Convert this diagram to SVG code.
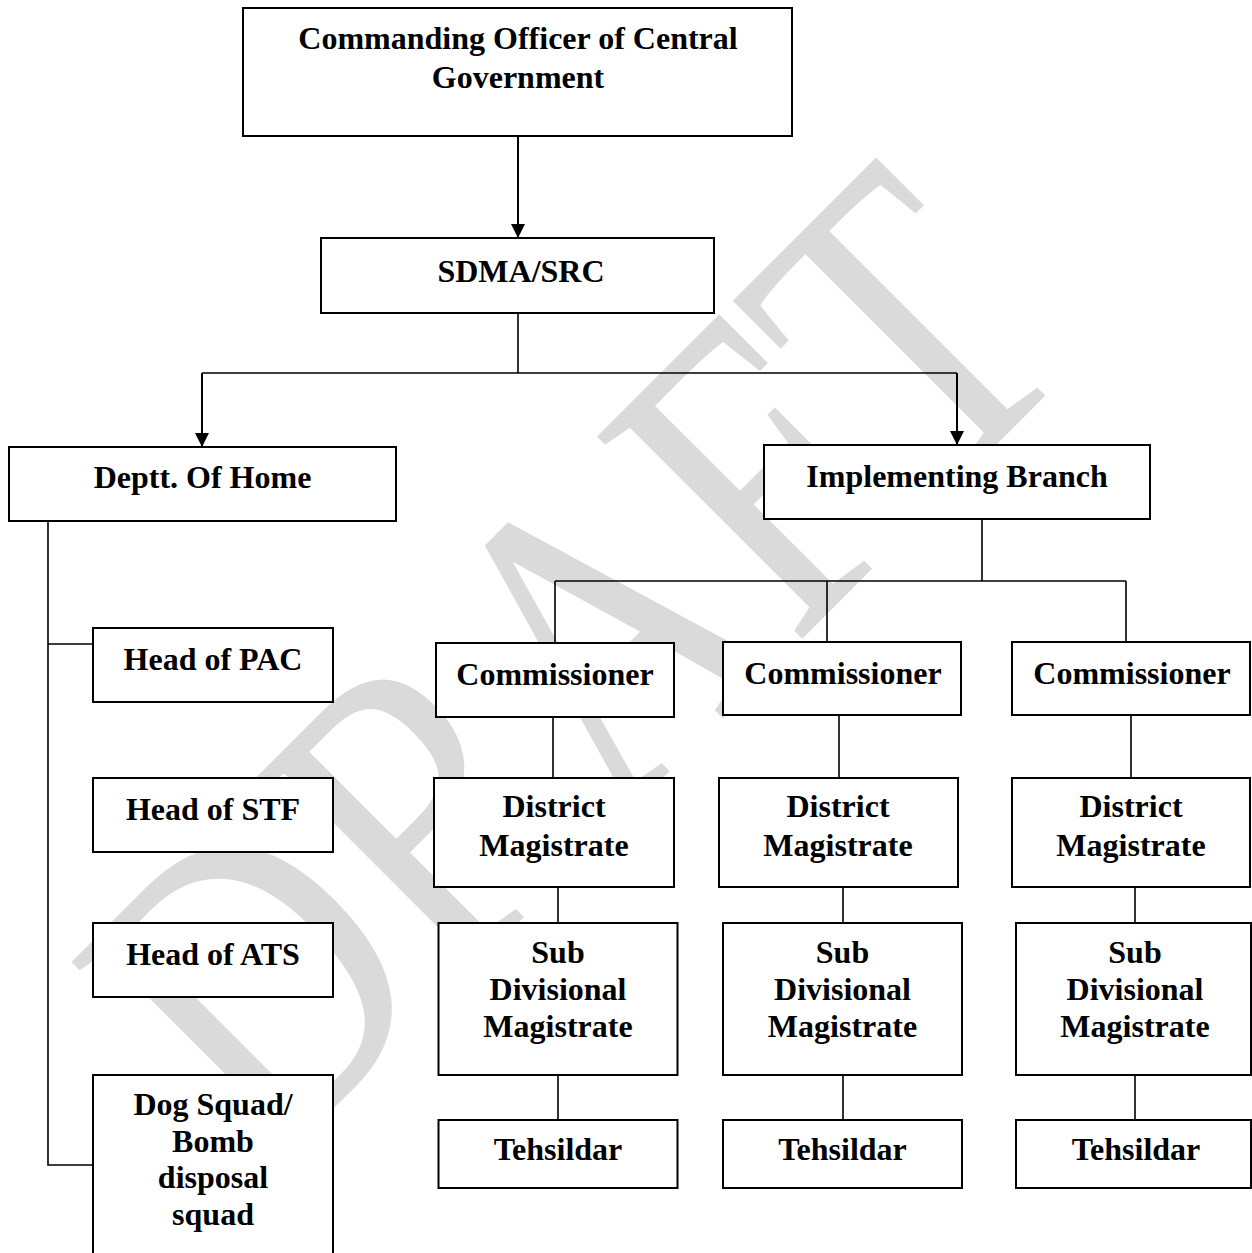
<svg xmlns="http://www.w3.org/2000/svg" width="1252" height="1253" viewBox="0 0 1252 1253">
<defs>
<style>
.box{fill:#fff;stroke:#000;stroke-width:2}
.t{font-family:"Liberation Serif","Times New Roman",serif;font-weight:bold;font-size:32px;text-anchor:middle;fill:#000}
.ln{fill:none;stroke:#000;stroke-width:1.6}
.ar{fill:none;stroke:#000;stroke-width:2}
.wm{font-family:"Liberation Serif","Times New Roman",serif;font-size:440px;text-anchor:middle;fill:#dadada}
</style>
<marker id="arr" viewBox="0 0 14 14" refX="14" refY="7" markerWidth="14" markerHeight="14" markerUnits="userSpaceOnUse" orient="auto">
<path d="M0,0 L14,7 L0,14 z" fill="#000"/>
</marker>
</defs>
<rect width="1252" height="1253" fill="#fff"/>
<text class="wm" transform="translate(676,765) rotate(-45) scale(0.8,1)">DRAFT</text>
<g id="connectors">
<path class="ar" d="M518,137 V238" marker-end="url(#arr)"/>
<path class="ln" d="M518,313 V373 M202,373 H957"/>
<path class="ar" d="M202,373 V447" marker-end="url(#arr)"/>
<path class="ar" d="M957,373 V445" marker-end="url(#arr)"/>
<path class="ln" d="M48,521 V1165 H94 M48,644 H94"/>
<path class="ln" d="M982,519 V581 M555,581 H1126 M555,581 V643 M827,581 V642 M1126,581 V642"/>
<path class="ln" d="M553,717 V778 M839,715 V778 M1131,715 V778"/>
<path class="ln" d="M558,887 V923 M843,887 V923 M1135,887 V923"/>
<path class="ln" d="M558,1075 V1120 M843,1075 V1120 M1135,1075 V1120"/>
</g>
<g id="n-top"><rect class="box" x="243" y="8" width="549" height="128"/><text class="t" x="518" y="49">Commanding Officer of Central</text><text class="t" x="518" y="88">Government</text></g>
<g id="n-sdma"><rect class="box" x="321" y="238" width="393" height="75"/><text class="t" x="521" y="282">SDMA/SRC</text></g>
<g id="n-home"><rect class="box" x="9" y="447" width="387" height="74"/><text class="t" x="202.5" y="488">Deptt. Of Home</text></g>
<g id="n-impl"><rect class="box" x="764" y="445" width="386" height="74"/><text class="t" x="957" y="487">Implementing Branch</text></g>
<g id="n-pac"><rect class="box" x="93" y="628" width="240" height="74"/><text class="t" x="213" y="670">Head of PAC</text></g>
<g id="n-stf"><rect class="box" x="93" y="778" width="240" height="74"/><text class="t" x="213" y="820">Head of STF</text></g>
<g id="n-ats"><rect class="box" x="93" y="923" width="240" height="74"/><text class="t" x="213" y="965">Head of ATS</text></g>
<g id="n-dog"><rect class="box" x="93" y="1075" width="240" height="200"/><text class="t" x="213" y="1115">Dog Squad/</text><text class="t" x="213" y="1152">Bomb</text><text class="t" x="213" y="1188">disposal</text><text class="t" x="213" y="1225">squad</text></g>
<g id="n-c1"><rect class="box" x="436" y="643" width="238" height="74"/><text class="t" x="555" y="685">Commissioner</text></g>
<g id="n-c2"><rect class="box" x="723" y="642" width="238" height="73"/><text class="t" x="843" y="684">Commissioner</text></g>
<g id="n-c3"><rect class="box" x="1012" y="642" width="238" height="73"/><text class="t" x="1132" y="684">Commissioner</text></g>
<g id="n-dm1"><rect class="box" x="434" y="778" width="240" height="109"/><text class="t" x="554" y="817">District</text><text class="t" x="554" y="856">Magistrate</text></g>
<g id="n-dm2"><rect class="box" x="719" y="778" width="239" height="109"/><text class="t" x="838" y="817">District</text><text class="t" x="838" y="856">Magistrate</text></g>
<g id="n-dm3"><rect class="box" x="1012" y="778" width="238" height="109"/><text class="t" x="1131" y="817">District</text><text class="t" x="1131" y="856">Magistrate</text></g>
<g id="n-sdm1"><rect class="box" x="438.5" y="923" width="239" height="152"/><text class="t" x="558" y="963">Sub</text><text class="t" x="558" y="1000">Divisional</text><text class="t" x="558" y="1037">Magistrate</text></g>
<g id="n-sdm2"><rect class="box" x="723" y="923" width="239" height="152"/><text class="t" x="842.5" y="963">Sub</text><text class="t" x="842.5" y="1000">Divisional</text><text class="t" x="842.5" y="1037">Magistrate</text></g>
<g id="n-sdm3"><rect class="box" x="1016" y="923" width="235" height="152"/><text class="t" x="1135" y="963">Sub</text><text class="t" x="1135" y="1000">Divisional</text><text class="t" x="1135" y="1037">Magistrate</text></g>
<g id="n-t1"><rect class="box" x="438.5" y="1120" width="239" height="68"/><text class="t" x="558" y="1160">Tehsildar</text></g>
<g id="n-t2"><rect class="box" x="723" y="1120" width="239" height="68"/><text class="t" x="842.5" y="1160">Tehsildar</text></g>
<g id="n-t3"><rect class="box" x="1016" y="1120" width="235" height="68"/><text class="t" x="1136" y="1160">Tehsildar</text></g>
</svg>
